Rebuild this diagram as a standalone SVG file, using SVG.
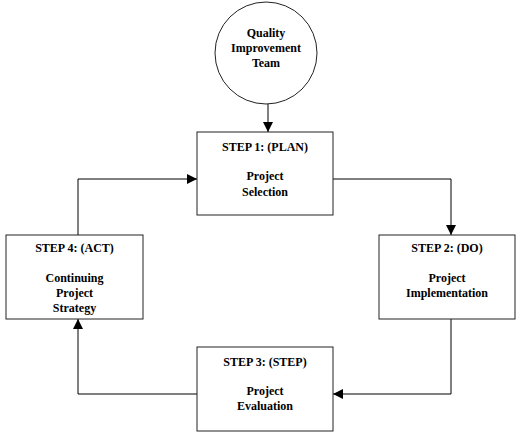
<svg xmlns="http://www.w3.org/2000/svg" width="516" height="432" viewBox="0 0 516 432">
<style>
.n{fill:#fff;stroke:#222;stroke-width:1}
.t{font-family:"Liberation Serif","Times New Roman",serif;font-weight:bold;font-size:12px;fill:#000;text-anchor:middle}
.c{fill:none;stroke:#000;stroke-width:1}
</style>
<defs>
<marker id="ah" markerWidth="10" markerHeight="10" refX="10" refY="5" orient="auto" markerUnits="userSpaceOnUse">
<path d="M0,0 L10,5 L0,10 Z" fill="#000"/>
</marker>
</defs>
<rect width="516" height="432" fill="#fff"/>
<g id="connectors">
<path class="c" d="M268,104 V132" marker-end="url(#ah)"/>
<path class="c" d="M333,179 H451 V235" marker-end="url(#ah)"/>
<path class="c" d="M451,319 V394 H333" marker-end="url(#ah)"/>
<path class="c" d="M197,394 H78 V319" marker-end="url(#ah)"/>
<path class="c" d="M78,235 V179 H197" marker-end="url(#ah)"/>
</g>
<g id="team">
<ellipse class="n" cx="266" cy="53" rx="51" ry="51"/>
<text class="t" x="266" y="37">Quality</text>
<text class="t" x="266" y="52">Improvement</text>
<text class="t" x="266" y="67">Team</text>
</g>
<g id="step1">
<rect class="n" x="197" y="132" width="136" height="83"/>
<text class="t" x="265" y="151">STEP 1: (PLAN)</text>
<text class="t" x="265" y="180">Project</text>
<text class="t" x="265" y="196">Selection</text>
</g>
<g id="step2">
<rect class="n" x="379" y="235" width="136" height="84"/>
<text class="t" x="447" y="252">STEP 2: (DO)</text>
<text class="t" x="447" y="282">Project</text>
<text class="t" x="447" y="297">Implementation</text>
</g>
<g id="step3">
<rect class="n" x="197" y="347" width="136" height="84"/>
<text class="t" x="265" y="366">STEP 3: (STEP)</text>
<text class="t" x="265" y="395">Project</text>
<text class="t" x="265" y="410">Evaluation</text>
</g>
<g id="step4">
<rect class="n" x="6" y="235" width="137" height="84"/>
<text class="t" x="74.500" y="252">STEP 4: (ACT)</text>
<text class="t" x="74.500" y="282">Continuing</text>
<text class="t" x="74.500" y="297">Project</text>
<text class="t" x="74.500" y="312">Strategy</text>
</g>
</svg>
